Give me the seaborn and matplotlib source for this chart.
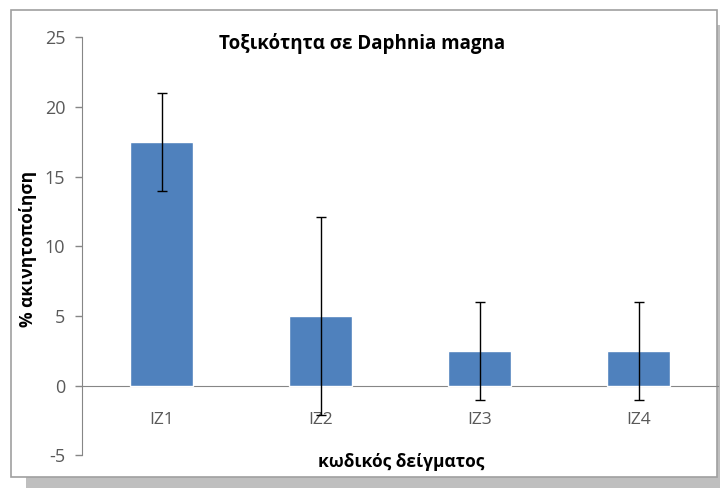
import numpy as np
import pandas as pd
import matplotlib
matplotlib.use("Agg")
import matplotlib.pyplot as plt
import seaborn as sns
from matplotlib.patches import Rectangle
from matplotlib.ticker import FixedLocator

# Data
samples = ["IZ1", "IZ2", "IZ3", "IZ4"]
immobilisation = [17.5, 5.0, 2.5, 2.5]
errors = [3.5, 7.1, 3.5, 3.5]

df = pd.DataFrame({"sample": samples, "value": immobilisation, "err": errors})

sns.set_style("white")
plt.rcParams['font.family'] = ['Open Sans', 'DejaVu Sans']
plt.rcParams['axes.unicode_minus'] = False

W, H = 720, 488
fig = plt.figure(figsize=(W / 100, H / 100), dpi=100)

def px(x0, y0, x1, y1):
    # pixel box (top-left origin) -> figure fraction rect
    return [x0 / W, 1 - y1 / H, (x1 - x0) / W, (y1 - y0) / H]

# Chart frame with drop shadow
sh = px(26, 477, 720, 488)
fig.patches.append(Rectangle((sh[0], sh[1]), sh[2], sh[3], transform=fig.transFigure,
                             facecolor='#bfbfbf', edgecolor='none', zorder=-2))
sr = px(717, 25, 720, 488)
fig.patches.append(Rectangle((sr[0], sr[1]), sr[2], sr[3], transform=fig.transFigure,
                             facecolor='#bfbfbf', edgecolor='none', zorder=-2))
fr = px(11, 10, 717, 477)
fig.patches.append(Rectangle((fr[0], fr[1]), fr[2], fr[3], transform=fig.transFigure,
                             facecolor='white', edgecolor='#a0a0a0', linewidth=1.2, zorder=-1))

ax = fig.add_axes(px(82, 37.3, 718, 455.4))
ax.patch.set_alpha(0)

sns.barplot(data=df, x="sample", y="value", color='#4F81BD', saturation=1,
            width=0.39, ax=ax, zorder=2)
ax.errorbar(np.arange(len(samples)), df["value"], yerr=df["err"], fmt='none',
            ecolor='black', elinewidth=1.0, capsize=3.5, capthick=1.0, zorder=3)

ax.set_xlim(-0.5, 3.5)
ax.set_ylim(-5, 25)
ax.set_yticks(np.arange(-5, 26, 5))

for s in ['top', 'right']:
    ax.spines[s].set_visible(False)
ax.spines['left'].set_color('#868686')
ax.spines['bottom'].set_color('#868686')
ax.spines['bottom'].set_position(('data', 0))
ax.spines['bottom'].set_zorder(1)

ax.xaxis.set_minor_locator(FixedLocator([0.5, 1.5, 2.5]))
ax.tick_params(axis='x', which='major', length=0, pad=19, labelsize=12.5, labelcolor='#595959')
ax.tick_params(axis='x', which='minor', length=6, width=1, color='#868686', direction='out')
ax.tick_params(axis='y', which='major', length=5, width=1, color='#868686',
               direction='out', left=True, pad=7, labelsize=13, labelcolor='#595959')
ax.set_xlabel("")
ax.set_ylabel("")

fig.text(362 / W, 1 - 43 / H, "Τοξικότητα σε Daphnia magna", ha='center', va='center',
         fontsize=13.5, fontweight='bold', color='black')
fig.text(401 / W, 1 - 462 / H, "κωδικός δείγματος", ha='center', va='center',
         fontsize=12.5, fontweight='bold', color='black')
fig.text(28 / W, 1 - 249 / H, "% ακινητοποίηση", ha='center', va='center', rotation=90,
         fontsize=12.5, fontweight='bold', color='black')

fig.savefig("out.png", dpi=100)
